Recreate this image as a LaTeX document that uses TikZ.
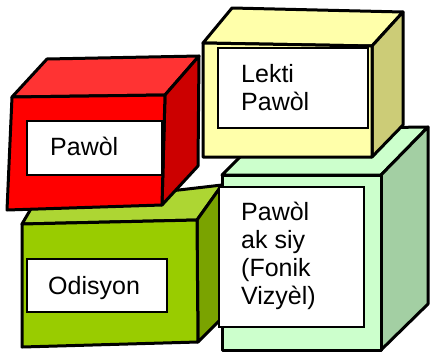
\documentclass[tikz,border=0pt]{standalone}
\usepackage{fontspec}
\setmainfont{Liberation Sans}
\definecolor{redF}{HTML}{FF0000}
\definecolor{redT}{HTML}{FF3333}
\definecolor{redR}{HTML}{CC0000}
\definecolor{yelF}{HTML}{FFFFAA}
\definecolor{yelT}{HTML}{FFFFAA}
\definecolor{yelR}{HTML}{CCCC77}
\definecolor{grnF}{HTML}{99CC00}
\definecolor{grnT}{HTML}{ADD633}
\definecolor{grnR}{HTML}{7AA300}
\definecolor{lgrF}{HTML}{CCFFCC}
\definecolor{lgrT}{HTML}{CCFFCC}
\definecolor{lgrR}{HTML}{A3CFA3}
\begin{document}
\begin{tikzpicture}[x=1pt,y=-1pt,
  face/.style={draw=black,line width=3pt,line join=round},
  lbl/.style={draw=black,fill=white,line width=1.2pt,anchor=north west,inner sep=0pt,outer sep=0pt},
  txt/.style={anchor=north west,inner sep=0pt,align=left,font=\fontsize{25}{28}\selectfont}]
\useasboundingbox (0,0) rectangle (431,354);
% green box (Odisyon)
\draw[face,fill=grnT] (22,224) -- (32,207) -- (222,185) -- (197,220) -- cycle;
\draw[face,fill=grnR] (197,220) -- (222,185) -- (222,318) -- (198,342) -- cycle;
\draw[face,fill=grnF] (22,224) -- (197,220) -- (198,342) -- (22,347) -- cycle;
\node[lbl,minimum width=140pt,minimum height=53pt] (glabel) at (27,259) {};
\node[txt] (gtext) at ([xshift=21pt,yshift=-17pt]glabel.north west) {Odisyon};
% red box (Pawol)
\draw[face,fill=redT] (12,97) -- (47,59) -- (199,56) -- (165,95) -- cycle;
\draw[face,fill=redR] (165,95) -- (199,56) -- (198,166) -- (162,205) -- cycle;
\draw[face,fill=redF] (12,97) -- (165,95) -- (162,205) -- (7,210) -- cycle;
\node[lbl,minimum width=135pt,minimum height=54pt] (rlabel) at (27,121) {};
\node[txt] (rtext) at ([xshift=23pt,yshift=-16pt]rlabel.north west) {Pawòl};
% light green box
\draw[face,fill=lgrT] (222,175) -- (268,129) -- (428,127) -- (381,175) -- cycle;
\draw[face,fill=lgrR] (381,175) -- (428,127) -- (428,304) -- (381,350) -- cycle;
\draw[face,fill=lgrF] (222,175) -- (381,175) -- (381,350) -- (222,350) -- cycle;
\node[lbl,minimum width=145pt,minimum height=140pt] (llabel) at (219,187) {};
\node[txt] (ltext) at ([xshift=22pt,yshift=-15pt]llabel.north west) {Pawòl\\ak siy\\(Fonik\\Vizyèl)};
% yellow box
\draw[face,fill=yelT] (203,43) -- (232,8) -- (403,12) -- (372,46) -- cycle;
\draw[face,fill=yelR] (372,46) -- (403,12) -- (403,125) -- (372,157) -- cycle;
\draw[face,fill=yelF] (203,43) -- (372,46) -- (372,157) -- (203,157) -- cycle;
\node[lbl,minimum width=150pt,minimum height=80pt] (ylabel) at (218,48) {};
\node[txt] (ytext) at ([xshift=23pt,yshift=-16pt]ylabel.north west) {Lekti\\Pawòl};
\end{tikzpicture}
\end{document}
